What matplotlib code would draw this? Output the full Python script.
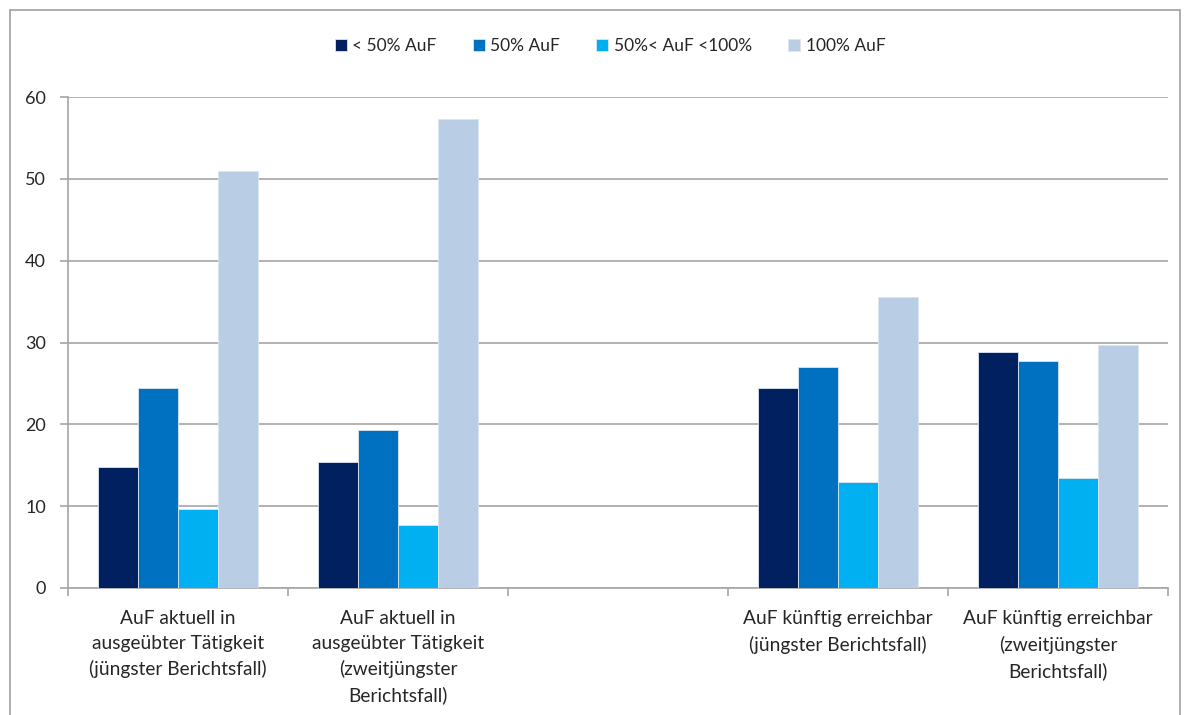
"""Grouped bar chart: AuF shares by category."""

import numpy as np
import matplotlib
matplotlib.use("Agg")
import matplotlib.pyplot as plt
from matplotlib.patches import Rectangle

categories = [
    "AuF aktuell in\nausgeübter Tätigkeit\n(jüngster Berichtsfall)",
    "AuF aktuell in\nausgeübter Tätigkeit\n(zweitjüngster\nBerichtsfall)",
    "",
    "AuF künftig erreichbar\n(jüngster Berichtsfall)",
    "AuF künftig erreichbar\n(zweitjüngster\nBerichtsfall)",
]
series_names = ["< 50% AuF", "50% AuF", "50%< AuF <100%", "100% AuF"]
below_50 = [14.8, 15.4, np.nan, 24.5, 28.9]
exactly_50 = [24.5, 19.3, np.nan, 27.0, 27.7]
between_50_100 = [9.6, 7.7, np.nan, 12.9, 13.5]
full_100 = [50.9, 57.3, np.nan, 35.5, 29.7]
y_ticks = [0, 10, 20, 30, 40, 50, 60]

COLORS = ["#002060", "#0070C0", "#00B0F0", "#B9CDE5"]
GRID = "#A6A6A6"

plt.rcParams["font.family"] = ["Lato", "DejaVu Sans"]

W, H = 1189, 715
fig = plt.figure(figsize=(W / 100, H / 100), dpi=100)
ax = fig.add_axes([68 / W, 1 - 588 / H, 1100 / W, 491 / H])

# outer chart frame
fig.patches.append(Rectangle((10 / W, -0.1), 1170 / W, 1.1 - 10 / H,
                             transform=fig.transFigure, fill=False,
                             edgecolor="#A0A0A0", linewidth=1.2))

x = np.arange(len(categories))
bar_w = 40 / 220
values = [below_50, exactly_50, between_50_100, full_100]
for i, (name, vals, col) in enumerate(zip(series_names, values, COLORS)):
    offset = (i - 1.5) * bar_w
    ax.bar(x + offset, vals, width=bar_w, color=col, label=name,
           edgecolor="#DCE6F2", linewidth=0.6, zorder=3)

ax.set_xlim(-0.5, len(categories) - 0.5)
ax.set_ylim(0, 60)
ax.set_yticks(y_ticks)
ax.yaxis.grid(True, color=GRID, linewidth=1.2, zorder=0)
ax.set_axisbelow(True)

ax.set_xticks(x)
ax.set_xticklabels(categories, fontsize=13.8, color="#262626", linespacing=1.55)
ax.tick_params(axis="x", length=0, pad=16)
ax.set_xticks(np.arange(-0.5, len(categories)), minor=True)
ax.tick_params(axis="x", which="minor", length=6, color=GRID, width=1.2)
ax.tick_params(axis="y", length=6, color=GRID, width=1.2, labelsize=13,
               labelcolor="#262626", pad=10)

for side in ["top", "right"]:
    ax.spines[side].set_visible(False)
for side in ["left", "bottom"]:
    ax.spines[side].set_color(GRID)
    ax.spines[side].set_linewidth(1.2)

fig.legend(loc="center", bbox_to_anchor=(0.513, 1 - 46 / H), ncol=4,
           frameon=False, fontsize=12.5, handlelength=0.7, handleheight=0.7,
           handletextpad=0.3, columnspacing=2.1, labelcolor="#262626")

fig.savefig("out.png", dpi=100)
